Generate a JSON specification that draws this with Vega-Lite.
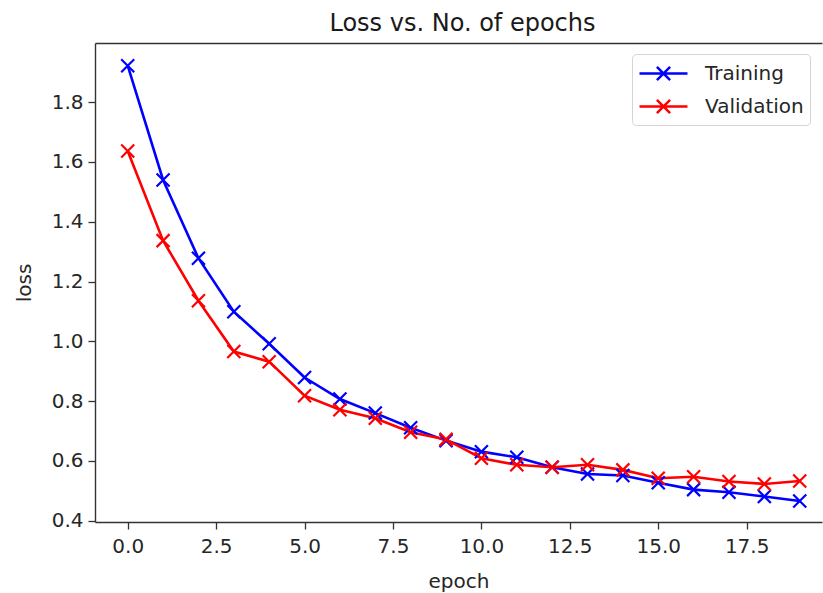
{
  "$schema": "https://vega.github.io/schema/vega-lite/v6.json",
  "autosize": {"type": "none"},
  "padding": {"left": 95, "top": 43, "right": 1, "bottom": 71},
  "width": 727,
  "height": 479,
  "background": "white",
  "title": {
    "text": "Loss vs. No. of epochs",
    "font": "DejaVu Sans",
    "fontSize": 24,
    "fontWeight": "normal",
    "color": "#1a1a1a",
    "anchor": "middle",
    "offset": 7,
    "dx": 4
  },
  "config": {
    "font": "DejaVu Sans",
    "view": {"stroke": null},
    "axis": {
      "grid": false,
      "domainColor": "#333333",
      "domainWidth": 1.4,
      "tickColor": "#333333",
      "tickWidth": 1.3,
      "tickSize": 7,
      "labelFont": "DejaVu Sans",
      "labelFontSize": 20,
      "labelColor": "#262626",
      "titleFont": "DejaVu Sans",
      "titleFontSize": 20,
      "titleFontWeight": "normal",
      "titleColor": "#262626"
    }
  },
  "data": {
    "values": [
      {"epoch": 0, "loss": 1.922, "series": "Training"},
      {"epoch": 1, "loss": 1.54, "series": "Training"},
      {"epoch": 2, "loss": 1.278, "series": "Training"},
      {"epoch": 3, "loss": 1.099, "series": "Training"},
      {"epoch": 4, "loss": 0.992, "series": "Training"},
      {"epoch": 5, "loss": 0.879, "series": "Training"},
      {"epoch": 6, "loss": 0.807, "series": "Training"},
      {"epoch": 7, "loss": 0.76, "series": "Training"},
      {"epoch": 8, "loss": 0.711, "series": "Training"},
      {"epoch": 9, "loss": 0.668, "series": "Training"},
      {"epoch": 10, "loss": 0.631, "series": "Training"},
      {"epoch": 11, "loss": 0.612, "series": "Training"},
      {"epoch": 12, "loss": 0.579, "series": "Training"},
      {"epoch": 13, "loss": 0.556, "series": "Training"},
      {"epoch": 14, "loss": 0.551, "series": "Training"},
      {"epoch": 15, "loss": 0.527, "series": "Training"},
      {"epoch": 16, "loss": 0.504, "series": "Training"},
      {"epoch": 17, "loss": 0.495, "series": "Training"},
      {"epoch": 18, "loss": 0.481, "series": "Training"},
      {"epoch": 19, "loss": 0.466, "series": "Training"},
      {"epoch": 0, "loss": 1.637, "series": "Validation"},
      {"epoch": 1, "loss": 1.337, "series": "Validation"},
      {"epoch": 2, "loss": 1.136, "series": "Validation"},
      {"epoch": 3, "loss": 0.966, "series": "Validation"},
      {"epoch": 4, "loss": 0.932, "series": "Validation"},
      {"epoch": 5, "loss": 0.818, "series": "Validation"},
      {"epoch": 6, "loss": 0.771, "series": "Validation"},
      {"epoch": 7, "loss": 0.743, "series": "Validation"},
      {"epoch": 8, "loss": 0.696, "series": "Validation"},
      {"epoch": 9, "loss": 0.672, "series": "Validation"},
      {"epoch": 10, "loss": 0.609, "series": "Validation"},
      {"epoch": 11, "loss": 0.587, "series": "Validation"},
      {"epoch": 12, "loss": 0.579, "series": "Validation"},
      {"epoch": 13, "loss": 0.587, "series": "Validation"},
      {"epoch": 14, "loss": 0.57, "series": "Validation"},
      {"epoch": 15, "loss": 0.542, "series": "Validation"},
      {"epoch": 16, "loss": 0.547, "series": "Validation"},
      {"epoch": 17, "loss": 0.531, "series": "Validation"},
      {"epoch": 18, "loss": 0.523, "series": "Validation"},
      {"epoch": 19, "loss": 0.533, "series": "Validation"}
    ]
  },
  "resolve": {"axis": {"x": "independent"}},
  "layer": [
    {
      "mark": {"type": "line", "strokeWidth": 2.6},
      "encoding": {
        "x": {
          "field": "epoch",
          "type": "quantitative",
          "scale": {"domain": [-0.925, 19.63], "nice": false, "zero": false},
          "axis": {
            "orient": "bottom",
            "title": "epoch",
            "values": [0, 2.5, 5, 7.5, 10, 12.5, 15, 17.5],
            "format": ".1f",
            "labelPadding": 7,
            "titlePadding": 15
          }
        },
        "y": {
          "field": "loss",
          "type": "quantitative",
          "scale": {"domain": [0.3957, 1.998], "nice": false, "zero": false},
          "axis": {
            "title": "loss",
            "values": [0.4, 0.6, 0.8, 1.0, 1.2, 1.4, 1.6, 1.8],
            "format": ".1f",
            "labelPadding": 5,
            "titlePadding": 17
          }
        },
        "color": {
          "field": "series",
          "type": "nominal",
          "scale": {"domain": ["Training", "Validation"], "range": ["#0000ff", "#ff0000"]},
          "legend": {
            "title": null,
            "orient": "none",
            "legendX": 537,
            "legendY": 11,
            "padding": 6,
            "fillColor": "white",
            "strokeColor": "#d4d4d4",
            "cornerRadius": 4,
            "symbolType": "M-1,0H3M0.45,-0.55L1.55,0.55M0.45,0.55L1.55,-0.55",
            "symbolSize": 576,
            "symbolStrokeWidth": 2.5,
            "symbolFillColor": "transparent",
            "labelFont": "DejaVu Sans",
            "labelFontSize": 20,
            "labelColor": "#262626",
            "labelOffset": 40,
            "rowPadding": 7
          }
        }
      }
    },
    {
      "mark": {
        "type": "point",
        "shape": "M-1,-1L1,1M-1,1L1,-1",
        "filled": false,
        "size": 169,
        "strokeWidth": 2.2,
        "opacity": 1
      },
      "encoding": {
        "x": {
          "field": "epoch",
          "type": "quantitative",
          "scale": {"domain": [-0.925, 19.63], "nice": false, "zero": false},
          "axis": {
            "orient": "top",
            "title": null,
            "labels": false,
            "ticks": false,
            "domain": true
          }
        },
        "y": {"field": "loss", "type": "quantitative"},
        "color": {"field": "series", "type": "nominal"}
      }
    }
  ]
}
